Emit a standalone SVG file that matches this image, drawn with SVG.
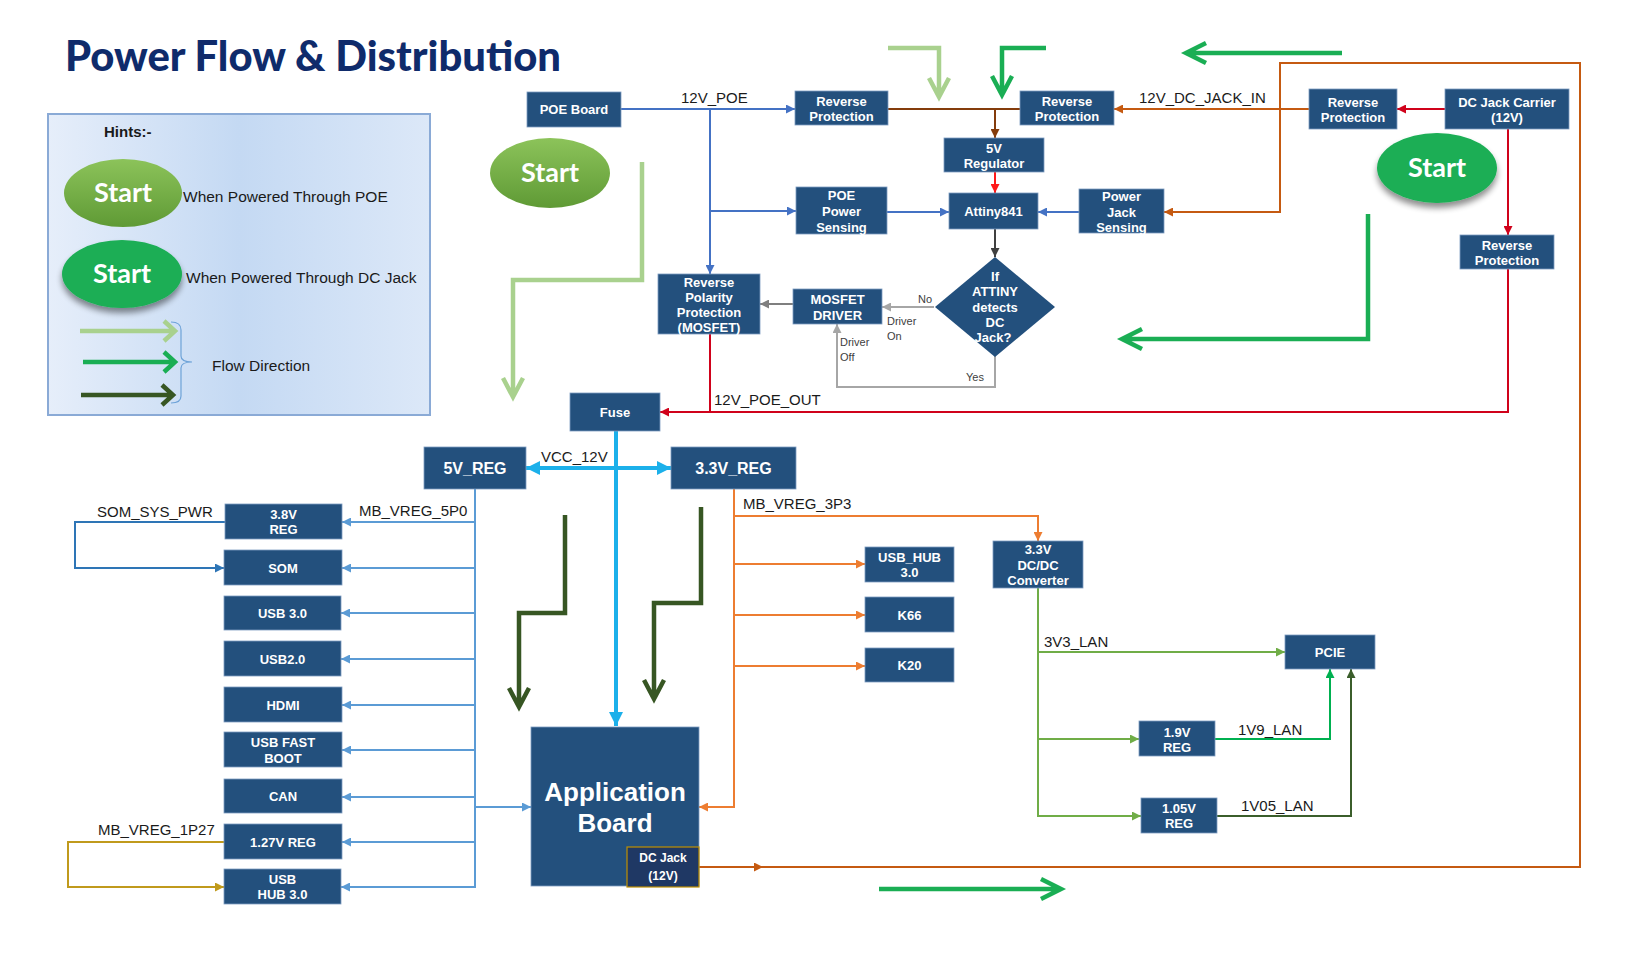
<svg xmlns="http://www.w3.org/2000/svg" width="1650" height="954" viewBox="0 0 1650 954">
<defs>
<style>
.box{fill:#23507d;stroke:#7d9cc0;stroke-width:0.8}
.bt{font-family:"Liberation Sans",Arial,sans-serif;font-weight:bold;font-size:13px;fill:#ffffff;text-anchor:middle}
.bt16{font-family:"Liberation Sans",Arial,sans-serif;font-weight:bold;font-size:16px;fill:#ffffff;text-anchor:middle}
.lbl{font-family:"Liberation Sans",Arial,sans-serif;font-size:15px;fill:#1a1a1a}
.gl{font-family:"Liberation Sans",Arial,sans-serif;font-size:11px;fill:#404040}
.ht{font-family:"Liberation Sans",Arial,sans-serif;font-size:15.5px;fill:#1a1a1a}
.st{font-family:Lato,"Liberation Sans",sans-serif;font-weight:bold;font-size:27px;fill:#ffffff;text-anchor:middle}
.c{fill:none;stroke-width:2}
.f{fill:none;stroke-width:4.5;stroke-linejoin:miter}
</style>
<linearGradient id="hintg" x1="0" y1="0" x2="1" y2="0">
<stop offset="0" stop-color="#e6eefa"/><stop offset="0.5" stop-color="#c4d9f3"/><stop offset="1" stop-color="#dce8f8"/>
</linearGradient>
<linearGradient id="poeg" x1="0" y1="0" x2="0" y2="1">
<stop offset="0" stop-color="#8cc35a"/><stop offset="1" stop-color="#5f9a35"/>
</linearGradient>
<filter id="sh" x="-20%" y="-20%" width="140%" height="150%">
<feGaussianBlur in="SourceAlpha" stdDeviation="3"/><feOffset dy="5" result="b"/>
<feComponentTransfer><feFuncA type="linear" slope="0.45"/></feComponentTransfer>
<feMerge><feMergeNode/><feMergeNode in="SourceGraphic"/></feMerge>
</filter>
<marker id="aBlue" viewBox="0 0 10 10" refX="10" refY="5" markerWidth="9" markerHeight="9" markerUnits="userSpaceOnUse" orient="auto"><path d="M0,0L10,5L0,10z" fill="#4472c4"/></marker>
<marker id="aLB" viewBox="0 0 10 10" refX="10" refY="5" markerWidth="9" markerHeight="9" markerUnits="userSpaceOnUse" orient="auto"><path d="M0,0L10,5L0,10z" fill="#5b9bd5"/></marker>
<marker id="aBrown" viewBox="0 0 10 10" refX="10" refY="5" markerWidth="9" markerHeight="9" markerUnits="userSpaceOnUse" orient="auto"><path d="M0,0L10,5L0,10z" fill="#843c0c"/></marker>
<marker id="aRed" viewBox="0 0 10 10" refX="10" refY="5" markerWidth="9" markerHeight="9" markerUnits="userSpaceOnUse" orient="auto"><path d="M0,0L10,5L0,10z" fill="#d0021b"/></marker>
<marker id="aRed2" viewBox="0 0 10 10" refX="10" refY="5" markerWidth="9" markerHeight="9" markerUnits="userSpaceOnUse" orient="auto"><path d="M0,0L10,5L0,10z" fill="#ff1a1a"/></marker>
<marker id="aOr" viewBox="0 0 10 10" refX="10" refY="5" markerWidth="9" markerHeight="9" markerUnits="userSpaceOnUse" orient="auto"><path d="M0,0L10,5L0,10z" fill="#c55a11"/></marker>
<marker id="aOr2" viewBox="0 0 10 10" refX="10" refY="5" markerWidth="9" markerHeight="9" markerUnits="userSpaceOnUse" orient="auto"><path d="M0,0L10,5L0,10z" fill="#ed7d31"/></marker>
<marker id="aGray" viewBox="0 0 10 10" refX="10" refY="5" markerWidth="9" markerHeight="9" markerUnits="userSpaceOnUse" orient="auto"><path d="M0,0L10,5L0,10z" fill="#a6a6a6"/></marker>
<marker id="aDG" viewBox="0 0 10 10" refX="10" refY="5" markerWidth="9" markerHeight="9" markerUnits="userSpaceOnUse" orient="auto"><path d="M0,0L10,5L0,10z" fill="#7f7f7f"/></marker>
<marker id="aDk" viewBox="0 0 10 10" refX="10" refY="5" markerWidth="9" markerHeight="9" markerUnits="userSpaceOnUse" orient="auto"><path d="M0,0L10,5L0,10z" fill="#404040"/></marker>
<marker id="aCy" viewBox="0 0 10 10" refX="10" refY="5" markerWidth="14" markerHeight="14" markerUnits="userSpaceOnUse" orient="auto"><path d="M0,0L10,5L0,10z" fill="#1cb0ea"/></marker>
<marker id="aSom" viewBox="0 0 10 10" refX="10" refY="5" markerWidth="9" markerHeight="9" markerUnits="userSpaceOnUse" orient="auto"><path d="M0,0L10,5L0,10z" fill="#2e75b6"/></marker>
<marker id="aGold" viewBox="0 0 10 10" refX="10" refY="5" markerWidth="9" markerHeight="9" markerUnits="userSpaceOnUse" orient="auto"><path d="M0,0L10,5L0,10z" fill="#c09a1c"/></marker>
<marker id="aGr" viewBox="0 0 10 10" refX="10" refY="5" markerWidth="9" markerHeight="9" markerUnits="userSpaceOnUse" orient="auto"><path d="M0,0L10,5L0,10z" fill="#70ad47"/></marker>
<marker id="aGr2" viewBox="0 0 10 10" refX="10" refY="5" markerWidth="9" markerHeight="9" markerUnits="userSpaceOnUse" orient="auto"><path d="M0,0L10,5L0,10z" fill="#00b050"/></marker>
<marker id="aGr3" viewBox="0 0 10 10" refX="10" refY="5" markerWidth="9" markerHeight="9" markerUnits="userSpaceOnUse" orient="auto"><path d="M0,0L10,5L0,10z" fill="#3b5e2b"/></marker>
</defs>
<rect width="1650" height="954" fill="#ffffff"/>

<text x="65" y="71" font-family="Lato,'Liberation Sans',sans-serif" font-weight="900" font-size="42" fill="#0f2b6b" textLength="496" lengthAdjust="spacingAndGlyphs">Power Flow &amp; Distribution</text>

<g id="legend">
<rect x="48" y="114" width="382" height="301" fill="url(#hintg)" stroke="#8aaad6" stroke-width="2"/>
<text x="104" y="137" font-family="'Liberation Sans',Arial,sans-serif" font-weight="bold" font-size="15" fill="#1a1a1a">Hints:-</text>
<ellipse cx="123" cy="193" rx="59" ry="34" fill="url(#poeg)"/>
<text class="st" x="123" y="202">Start</text>
<text class="ht" x="183" y="202">When Powered Through POE</text>
<ellipse cx="122" cy="274" rx="60" ry="34" fill="#1aae54" filter="url(#sh)"/>
<text class="st" x="122" y="283">Start</text>
<text class="ht" x="186" y="283">When Powered Through DC Jack</text>
<path class="f" d="M80,331H174M164,321L175,331L164,341" stroke="#a9d18e"/>
<path class="f" d="M83,362H174M164,352L175,362L164,372" stroke="#1aae54"/>
<path class="f" d="M81,395H172M162,385L173,395L162,405" stroke="#375623"/>
<path d="M171,322Q181,322 181,330V356Q181,362 192,362Q181,362 181,368V396Q181,403 171,403" fill="none" stroke="#6ea3d8" stroke-width="1.2"/>
<text class="ht" x="212" y="371">Flow Direction</text>
</g>

<g id="flow-arrows">
<path class="f" d="M888,48H939V96M929,78L939,97L949,78" stroke="#a9d18e"/>
<path class="f" d="M1046,48H1002V94M992,76L1002,95L1012,76" stroke="#1aae54"/>
<path class="f" d="M1342,53H1186M1206,43L1186,53L1206,63" stroke="#1aae54"/>
<path class="f" d="M642,162V280H513V396M503,378L513,397L523,378" stroke="#a9d18e"/>
<path class="f" d="M1368,214V339H1122M1142,329L1122,339L1142,349" stroke="#1aae54"/>
<path class="f" d="M565,515V613H519V706M509,688L519,707L529,688" stroke="#375623"/>
<path class="f" d="M701,507V603H654V698M644,680L654,699L664,680" stroke="#375623"/>
<path class="f" d="M879,889H1060M1041,879L1061,889L1041,899" stroke="#1aae54"/>
</g>

<g id="start-poe"><ellipse cx="550" cy="173" rx="60" ry="35" fill="url(#poeg)"/><text class="st" x="550" y="182">Start</text></g>
<g id="start-dc"><ellipse cx="1437" cy="168" rx="60" ry="35" fill="#1aae54" filter="url(#sh)"/><text class="st" x="1437" y="177">Start</text></g>

<g id="connectors">
<path class="c" d="M621,109H795" stroke="#4472c4" marker-end="url(#aBlue)"/>
<path class="c" d="M710,109V274" stroke="#4472c4" marker-end="url(#aBlue)"/>
<path class="c" d="M710,211H796" stroke="#4472c4" marker-end="url(#aBlue)"/>
<path class="c" d="M887,212H949" stroke="#4472c4" marker-end="url(#aBlue)"/>
<path class="c" d="M1079,212H1038" stroke="#4472c4" marker-end="url(#aBlue)"/>
<path class="c" d="M888,109H1020" stroke="#843c0c"/>
<path class="c" d="M995,109V138" stroke="#843c0c" marker-end="url(#aBrown)"/>
<path class="c" d="M995,172V193" stroke="#ff1a1a" marker-end="url(#aRed2)"/>
<path class="c" d="M995,229V257" stroke="#404040" marker-end="url(#aDk)"/>
<path class="c" d="M934,307H882" stroke="#a6a6a6" marker-end="url(#aGray)"/>
<path class="c" d="M995,356V387H837V324" stroke="#a6a6a6" marker-end="url(#aGray)"/>
<path class="c" d="M793,304H760" stroke="#7f7f7f" marker-end="url(#aDG)"/>
<path class="c" d="M710,334V412" stroke="#d0021b"/>
<path class="c" d="M1508,269V412H660" stroke="#d0021b" marker-end="url(#aRed)"/>
<path class="c" d="M1445,109H1397" stroke="#d0021b" marker-end="url(#aRed)"/>
<path class="c" d="M1508,129V235" stroke="#d0021b" marker-end="url(#aRed)"/>
<path class="c" d="M1309,109H1114" stroke="#c55a11" marker-end="url(#aOr)"/>
<path class="c" d="M699,867H763" stroke="#c55a11" marker-end="url(#aOr)"/>
<path class="c" d="M760,867H1580V63H1280V212H1164" stroke="#c55a11" marker-end="url(#aOr)"/>
<path d="M616,431V726" fill="none" stroke="#1cb0ea" stroke-width="4" marker-end="url(#aCy)"/>
<path d="M616,468H526" fill="none" stroke="#1cb0ea" stroke-width="4" marker-end="url(#aCy)"/>
<path d="M616,468H671" fill="none" stroke="#1cb0ea" stroke-width="4" marker-end="url(#aCy)"/>
<path class="c" d="M475,489V887" stroke="#5b9bd5"/>
<path class="c" d="M475,522H342" stroke="#5b9bd5" marker-end="url(#aLB)"/>
<path class="c" d="M475,568H342" stroke="#5b9bd5" marker-end="url(#aLB)"/>
<path class="c" d="M475,613H341" stroke="#5b9bd5" marker-end="url(#aLB)"/>
<path class="c" d="M475,659H341" stroke="#5b9bd5" marker-end="url(#aLB)"/>
<path class="c" d="M475,705H342" stroke="#5b9bd5" marker-end="url(#aLB)"/>
<path class="c" d="M475,750H342" stroke="#5b9bd5" marker-end="url(#aLB)"/>
<path class="c" d="M475,797H342" stroke="#5b9bd5" marker-end="url(#aLB)"/>
<path class="c" d="M475,842H342" stroke="#5b9bd5" marker-end="url(#aLB)"/>
<path class="c" d="M476,887H341" stroke="#5b9bd5" marker-end="url(#aLB)"/>
<path class="c" d="M475,807H531" stroke="#5b9bd5" marker-end="url(#aLB)"/>
<path class="c" d="M225,522H75V568H224" stroke="#2e75b6" marker-end="url(#aSom)"/>
<path class="c" d="M224,842H68V887H224" stroke="#c09a1c" marker-end="url(#aGold)"/>
<path class="c" d="M734,489V807H699" stroke="#ed7d31" marker-end="url(#aOr2)"/>
<path class="c" d="M734,516H1038V541" stroke="#ed7d31" marker-end="url(#aOr2)"/>
<path class="c" d="M734,564H865" stroke="#ed7d31" marker-end="url(#aOr2)"/>
<path class="c" d="M734,615H865" stroke="#ed7d31" marker-end="url(#aOr2)"/>
<path class="c" d="M734,666H865" stroke="#ed7d31" marker-end="url(#aOr2)"/>
<path class="c" d="M1038,588V816H1141" stroke="#70ad47" marker-end="url(#aGr)"/>
<path class="c" d="M1038,652H1285" stroke="#70ad47" marker-end="url(#aGr)"/>
<path class="c" d="M1038,739H1139" stroke="#70ad47" marker-end="url(#aGr)"/>
<path class="c" d="M1215,739H1330V669" stroke="#00b050" marker-end="url(#aGr2)"/>
<path class="c" d="M1217,816H1351V669" stroke="#3b5e2b" marker-end="url(#aGr3)"/>
<text class="lbl" x="681" y="103">12V_POE</text>
<text class="lbl" x="1139" y="103">12V_DC_JACK_IN</text>
<text class="lbl" x="714" y="405">12V_POE_OUT</text>
<text class="lbl" x="541" y="462">VCC_12V</text>
<text class="lbl" x="359" y="516">MB_VREG_5P0</text>
<text class="lbl" x="97" y="517">SOM_SYS_PWR</text>
<text class="lbl" x="98" y="835">MB_VREG_1P27</text>
<text class="lbl" x="743" y="509">MB_VREG_3P3</text>
<text class="lbl" x="1044" y="647">3V3_LAN</text>
<text class="lbl" x="1238" y="735">1V9_LAN</text>
<text class="lbl" x="1241" y="811">1V05_LAN</text>
<text class="gl" x="918" y="303">No</text>
<text class="gl" x="887" y="325">Driver</text>
<text class="gl" x="887" y="340">On</text>
<text class="gl" x="840" y="346">Driver</text>
<text class="gl" x="840" y="361">Off</text>
<text class="gl" x="966" y="381">Yes</text>
</g>

<g id="poe-board"><rect class="box" x="527" y="92" width="94" height="35"/><text class="bt" x="574" y="114">POE Board</text></g>
<g id="rp1"><rect class="box" x="795" y="91" width="93" height="34"/><text class="bt" x="841.5" y="105.5">Reverse</text><text class="bt" x="841.5" y="120.5">Protection</text></g>
<g id="rp2"><rect class="box" x="1020" y="91" width="94" height="34"/><text class="bt" x="1067" y="105.5">Reverse</text><text class="bt" x="1067" y="120.5">Protection</text></g>
<g id="rp3"><rect class="box" x="1309" y="89" width="88" height="40"/><text class="bt" x="1353" y="106.5">Reverse</text><text class="bt" x="1353" y="121.5">Protection</text></g>
<g id="dc-jack-carrier"><rect class="box" x="1445" y="89" width="124" height="40"/><text class="bt" x="1507" y="106.5">DC Jack Carrier</text><text class="bt" x="1507" y="121.5">(12V)</text></g>
<g id="rp4"><rect class="box" x="1460" y="235" width="94" height="34"/><text class="bt" x="1507" y="249.5">Reverse</text><text class="bt" x="1507" y="264.5">Protection</text></g>
<g id="reg5v"><rect class="box" x="944" y="138" width="100" height="34"/><text class="bt" x="994" y="152.5">5V</text><text class="bt" x="994" y="167.5">Regulator</text></g>
<g id="attiny"><rect class="box" x="949" y="193" width="89" height="36"/><text class="bt" x="993.5" y="215.5">Attiny841</text></g>
<g id="poe-sense"><rect class="box" x="796" y="187" width="91" height="47"/><text class="bt" x="841.5" y="199.5">POE</text><text class="bt" x="841.5" y="215.5">Power</text><text class="bt" x="841.5" y="231.5">Sensing</text></g>
<g id="jack-sense"><rect class="box" x="1079" y="189" width="85" height="44"/><text class="bt" x="1121.5" y="200.5">Power</text><text class="bt" x="1121.5" y="216.5">Jack</text><text class="bt" x="1121.5" y="231.5">Sensing</text></g>
<g id="decision"><polygon points="995,257 1055,307 995,357 935,307" fill="#23507d"/><text class="bt" x="995" y="280.5">If</text><text class="bt" x="995" y="295.5">ATTINY</text><text class="bt" x="995" y="311.5">detects</text><text class="bt" x="995" y="326.5">DC</text><text class="bt" x="993" y="341.5">Jack?</text></g>
<g id="mosfet-driver"><rect class="box" x="793" y="289" width="89" height="35"/><text class="bt" x="837.5" y="303.5">MOSFET</text><text class="bt" x="837.5" y="319.5">DRIVER</text></g>
<g id="rpp"><rect class="box" x="658" y="274" width="102" height="60"/><text class="bt" x="709" y="286.5">Reverse</text><text class="bt" x="709" y="301.5">Polarity</text><text class="bt" x="709" y="316.5">Protection</text><text class="bt" x="709" y="332">(MOSFET)</text></g>
<g id="fuse"><rect class="box" x="570" y="393" width="90" height="38"/><text class="bt" x="615" y="416.5">Fuse</text></g>
<g id="reg5v-main"><rect class="box" x="424" y="447" width="102" height="42"/><text class="bt16" x="475" y="474">5V_REG</text></g>
<g id="reg33-main"><rect class="box" x="671" y="447" width="125" height="42"/><text class="bt16" x="733.5" y="474">3.3V_REG</text></g>
<g id="reg38"><rect class="box" x="225" y="504" width="117" height="35"/><text class="bt" x="283.5" y="518.5">3.8V</text><text class="bt" x="283.5" y="533.5">REG</text></g>
<g id="som"><rect class="box" x="224" y="550" width="118" height="35"/><text class="bt" x="283" y="572.5">SOM</text></g>
<g id="usb30"><rect class="box" x="224" y="596" width="117" height="34"/><text class="bt" x="282.5" y="617.5">USB 3.0</text></g>
<g id="usb20"><rect class="box" x="224" y="641" width="117" height="35"/><text class="bt" x="282.5" y="663.5">USB2.0</text></g>
<g id="hdmi"><rect class="box" x="224" y="687" width="118" height="35"/><text class="bt" x="283" y="709.5">HDMI</text></g>
<g id="usb-fast-boot"><rect class="box" x="224" y="732" width="118" height="35"/><text class="bt" x="283" y="746.5">USB FAST</text><text class="bt" x="283" y="762.5">BOOT</text></g>
<g id="can"><rect class="box" x="224" y="779" width="118" height="34"/><text class="bt" x="283" y="800.5">CAN</text></g>
<g id="reg127"><rect class="box" x="224" y="824" width="118" height="35"/><text class="bt" x="283" y="846.5">1.27V REG</text></g>
<g id="usb-hub-left"><rect class="box" x="224" y="869" width="117" height="35"/><text class="bt" x="282.5" y="883.5">USB</text><text class="bt" x="282.5" y="898.5">HUB 3.0</text></g>
<g id="app-board"><rect class="box" x="531" y="727" width="168" height="159"/><text x="615" y="801" font-family="'Liberation Sans',Arial,sans-serif" font-weight="bold" font-size="26" fill="#ffffff" text-anchor="middle">Application</text><text x="615" y="832" font-family="'Liberation Sans',Arial,sans-serif" font-weight="bold" font-size="26" fill="#ffffff" text-anchor="middle">Board</text></g>
<g id="app-dc-jack"><rect x="627" y="847" width="72" height="40" fill="#1f3864" stroke="#bf9000" stroke-width="1.2"/><text x="663" y="862" font-family="'Liberation Sans',Arial,sans-serif" font-weight="bold" font-size="12" fill="#ffffff" text-anchor="middle">DC Jack</text><text x="663" y="880" font-family="'Liberation Sans',Arial,sans-serif" font-weight="bold" font-size="12" fill="#ffffff" text-anchor="middle">(12V)</text></g>
<g id="usb-hub-right"><rect class="box" x="865" y="547" width="89" height="35"/><text class="bt" x="909.5" y="561.5">USB_HUB</text><text class="bt" x="909.5" y="576.5">3.0</text></g>
<g id="k66"><rect class="box" x="865" y="597" width="89" height="35"/><text class="bt" x="909.5" y="619.5">K66</text></g>
<g id="k20"><rect class="box" x="865" y="648" width="89" height="34"/><text class="bt" x="909.5" y="669.5">K20</text></g>
<g id="dcdc"><rect class="box" x="993" y="541" width="90" height="47"/><text class="bt" x="1038" y="553.5">3.3V</text><text class="bt" x="1038" y="569.5">DC/DC</text><text class="bt" x="1038" y="585">Converter</text></g>
<g id="pcie"><rect class="box" x="1285" y="635" width="90" height="34"/><text class="bt" x="1330" y="656.5">PCIE</text></g>
<g id="reg19"><rect class="box" x="1139" y="721" width="76" height="35"/><text class="bt" x="1177" y="736.5">1.9V</text><text class="bt" x="1177" y="751.5">REG</text></g>
<g id="reg105"><rect class="box" x="1141" y="798" width="76" height="35"/><text class="bt" x="1179" y="812.5">1.05V</text><text class="bt" x="1179" y="827.5">REG</text></g>
</svg>
